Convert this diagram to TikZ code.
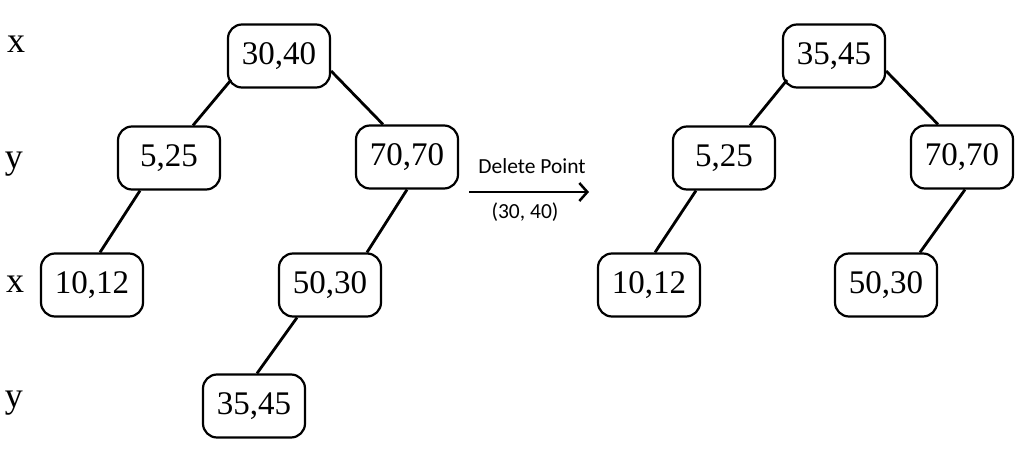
\documentclass[tikz,border=0pt]{standalone}
\usepackage{fontspec}
\usetikzlibrary{arrows.meta,calc}
\setmainfont{Liberation Serif}
\newfontfamily\labelfont{Carlito}
\begin{document}
\begin{tikzpicture}[x=1pt,y=-1pt,
  kd/.style={draw, line width=2.2pt, rounded corners=14pt, minimum width=102pt, minimum height=63pt, inner sep=0pt, font=\fontsize{33}{38}\selectfont},
  axis/.style={font=\fontsize{36}{40}\selectfont, inner sep=0pt},
  edge/.style={line width=2.8pt},
  small/.style={font=\labelfont\fontsize{21.5}{24}\selectfont, inner sep=0pt}]
\useasboundingbox (0,0) rectangle (1024,454);
% axis labels
\node[axis] (l1) at (16,44) {x};
\node[axis] (l2) at (14,164) {y};
\node[axis] (l3) at (15,284) {x};
\node[axis] (l4) at (14,403) {y};
% left tree
\node[kd] (a) at (279,56) {30,40};
\node[kd] (b) at (169,158) {5,25};
\node[kd] (c) at (407,157) {70,70};
\node[kd] (d) at (92,285) {10,12};
\node[kd] (e) at (330,285) {50,30};
\node[kd] (f) at (254,406) {35,45};
\draw[edge] ($(a.center)+(-48,24)$) -- ($(b.north)+(24,0)$);
\draw[edge] ($(a.east)+(0,15)$) -- ($(c.north)+(-24,0)$);
\draw[edge] ($(b.south)+(-29,0)$) -- ($(d.north)+(8,0)$);
\draw[edge] ($(c.south)+(0,0)$) -- ($(e.north)+(37,0)$);
\draw[edge] ($(e.south)+(-33,0)$) -- ($(f.north)+(3,0)$);
% arrow
\coordinate (s) at (469,192);
\coordinate (t) at (589,192);
\draw[line width=2.5pt, -{Straight Barb[length=8pt,width=18pt,line width=2.5pt]}] (s) -- (t);
\node[small] (dp) at (532,166) {Delete Point};
\node[small] (pt) at (525,212) {(30, 40)};
% right tree
\node[kd] (A) at (834,56) {35,45};
\node[kd] (B) at (724,158) {5,25};
\node[kd] (C) at (962,157) {70,70};
\node[kd] (D) at (649,285) {10,12};
\node[kd] (E) at (886,285) {50,30};
\draw[edge] ($(A.center)+(-47,24)$) -- ($(B.north)+(26,0)$);
\draw[edge] ($(A.east)+(0,15)$) -- ($(C.north)+(-24,0)$);
\draw[edge] ($(B.south)+(-28,0)$) -- ($(D.north)+(6,0)$);
\draw[edge] ($(C.south)+(3,0)$) -- ($(E.north)+(34,0)$);
\end{tikzpicture}
\end{document}
